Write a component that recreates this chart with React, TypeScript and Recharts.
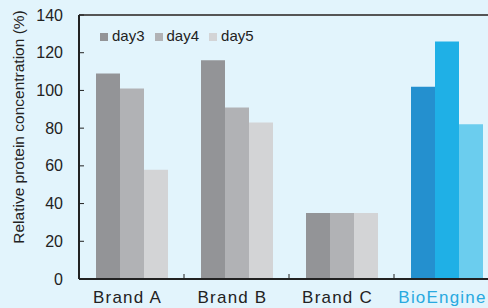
import { BarChart, Bar, XAxis, YAxis, Cell, Legend, ReferenceLine } from "recharts";

const brands = ["Brand A", "Brand B", "Brand C", "BioEngine"];
const day3 = [109, 116, 35, 102];
const day4 = [101, 91, 35, 126];
const day5 = [58, 83, 35, 82];
const yTicks = [0, 20, 40, 60, 80, 100, 120, 140];

const data = brands.map((name, i) => ({
  name,
  day3: day3[i],
  day4: day4[i],
  day5: day5[i],
}));

const GRAY = { day3: "#939497", day4: "#b1b2b5", day5: "#d3d4d6" };
const BLUE = { day3: "#2490cf", day4: "#1fb0e6", day5: "#6bcdee" };
const HIGHLIGHT = "BioEngine";

const CHART_W = 499;
const LEFT = 79;
const STEP = (CHART_W - LEFT) / brands.length;

function YTick(props: any) {
  const { x, y, payload } = props;
  return (
    <g>
      <line x1={x + 16} x2={x + 21} y1={y} y2={y} stroke="#222" strokeWidth={1} />
      <text
        x={x}
        y={y}
        textAnchor="end"
        dominantBaseline="central"
        fontSize={16}
        fill="#222"
      >
        {payload.value}
      </text>
    </g>
  );
}

function XTick(props: any) {
  const { x, y, payload, index } = props;
  const hi = payload.value === HIGHLIGHT;
  return (
    <g>
      {index > 0 && (
        <line x1={x - STEP / 2} x2={x - STEP / 2} y1={y} y2={y - 5} stroke="#222" strokeWidth={1} />
      )}
      <text
        x={x - 4}
        y={y + 24}
        textAnchor="middle"
        fontSize={17}
        letterSpacing={1.2}
        fill={hi ? "#29a9e0" : "#222"}
      >
        {payload.value}
      </text>
    </g>
  );
}

export default function App() {
  return (
    <div
      style={{
        position: "fixed",
        left: 0,
        top: 0,
        width: 488,
        height: 308,
        overflow: "hidden",
        background: "#e2f4fc",
        fontFamily: "'Liberation Sans', Arial, sans-serif",
      }}
    >
      <BarChart
        width={CHART_W}
        height={308}
        data={data}
        margin={{ top: 15, right: 0, bottom: 0, left: 0 }}
        barCategoryGap={17}
        barGap={0}
      >
        <XAxis
          dataKey="name"
          height={29}
          tickSize={0}
          tickMargin={0}
          tickLine={false}
          axisLine={{ stroke: "#222", strokeWidth: 2 }}
          tick={<XTick />}
          interval={0}
        />
        <YAxis
          width={79}
          domain={[0, 140]}
          ticks={yTicks}
          tickSize={0}
          tickMargin={16}
          tickLine={false}
          axisLine={{ stroke: "#222", strokeWidth: 2 }}
          tick={<YTick />}
          label={{
            content: () => (
              <text
                x={18}
                y={127}
                transform="rotate(-90 18 127)"
                textAnchor="middle"
                dominantBaseline="central"
                fontSize={15.5}
                fill="#222"
              >
                Relative protein concentration (%)
              </text>
            ),
          }}
        />
        <ReferenceLine y={140} stroke="#555" strokeWidth={2} />
        <Legend
          layout="horizontal"
          verticalAlign="middle"
          align="center"
          iconType="square"
          iconSize={8}
          wrapperStyle={{ position: "absolute", left: 100, top: 27, width: "auto", fontSize: 15 }}
          formatter={(value: string) => <span style={{ color: "#222" }}>{value}</span>}
        />
        {(["day3", "day4", "day5"] as const).map((key) => (
          <Bar key={key} dataKey={key} fill={GRAY[key]} isAnimationActive={false}>
            {data.map((d) => (
              <Cell key={d.name} fill={d.name === HIGHLIGHT ? BLUE[key] : GRAY[key]} />
            ))}
          </Bar>
        ))}
      </BarChart>
    </div>
  );
}
